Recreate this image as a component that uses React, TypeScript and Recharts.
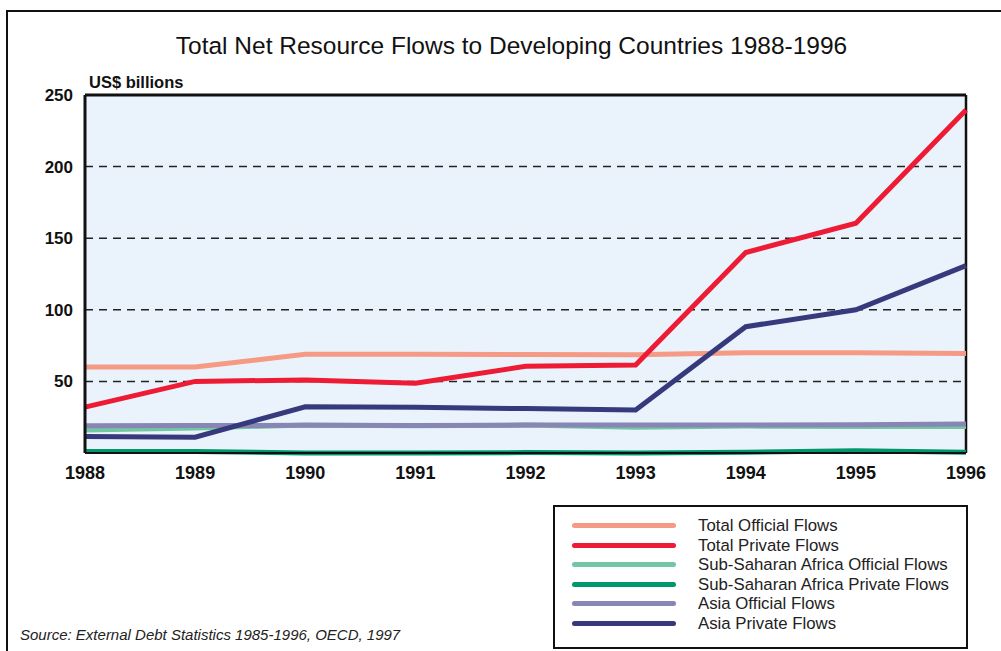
import React from 'react'
import {
  LineChart,
  Line,
  XAxis,
  YAxis,
  CartesianGrid,
  ReferenceLine,
  Legend,
} from 'recharts'

// ─── Data ─────────────────────────────────────────────────────────────────────

const years = [1988, 1989, 1990, 1991, 1992, 1993, 1994, 1995, 1996]

const totalOfficial = [60, 60, 69, 69, 68.8, 68.6, 70, 70, 69.5]
const totalPrivate = [32, 50, 51, 48.7, 60.5, 61.5, 140, 160.5, 239.5]
const ssaOfficial = [16, 17.5, 19.5, 19, 19.5, 18, 18.8, 18.5, 18.5]
const ssaPrivate = [1, 1, 0, 0, 0.3, 0, 0.6, 1.5, 0.5]
const asiaOfficial = [19, 19.2, 19.3, 19.2, 19.5, 19.5, 19.5, 19.7, 20.2]
const asiaPrivate = [11.5, 11, 32.3, 32, 31, 30, 88.2, 100, 130.8]

const yTicks = [50, 100, 150, 200, 250]

const series = [
  { key: 'totalOfficial', name: 'Total Official Flows', color: '#F59A84', values: totalOfficial },
  { key: 'totalPrivate', name: 'Total Private Flows', color: '#EE1B35', values: totalPrivate },
  { key: 'ssaOfficial', name: 'Sub-Saharan Africa Official Flows', color: '#72C6A2', values: ssaOfficial },
  { key: 'ssaPrivate', name: 'Sub-Saharan Africa Private Flows', color: '#00976A', values: ssaPrivate },
  { key: 'asiaOfficial', name: 'Asia Official Flows', color: '#8886B4', values: asiaOfficial },
  { key: 'asiaPrivate', name: 'Asia Private Flows', color: '#363A7C', values: asiaPrivate },
]

const chartData = years.map((year, i) => {
  const row: Record<string, number> = { year }
  series.forEach((s) => {
    row[s.key] = s.values[i]
  })
  return row
})

const FONT = '"Liberation Sans", Arial, sans-serif'

// ─── Legend ───────────────────────────────────────────────────────────────────

function LegendBox() {
  return (
    <div
      style={{
        width: 411,
        height: 131,
        border: '2.5px solid #111',
        background: '#fff',
        boxSizing: 'content-box',
        paddingTop: 9,
      }}
    >
      {series.map((s) => (
        <div key={s.key} style={{ display: 'flex', alignItems: 'center', height: 19.5 }}>
          <div
            style={{
              marginLeft: 17,
              width: 104,
              height: 5,
              borderRadius: 3,
              background: s.color,
            }}
          />
          <span
            style={{
              marginLeft: 22,
              fontFamily: FONT,
              fontSize: 16.8,
              color: '#222',
              lineHeight: '19px',
              whiteSpace: 'nowrap',
            }}
          >
            {s.name}
          </span>
        </div>
      ))}
    </div>
  )
}

// ─── Component ────────────────────────────────────────────────────────────────

export default function App() {
  return (
    <div
      style={{
        position: 'absolute',
        left: 0,
        top: 0,
        width: 1001,
        height: 651,
        background: '#fff',
        overflow: 'hidden',
        fontFamily: FONT,
      }}
    >
      {/* outer frame */}
      <div
        style={{
          position: 'absolute',
          left: 6,
          top: 10,
          width: 1100,
          height: 800,
          borderLeft: '2.5px solid #111',
          borderTop: '2.5px solid #111',
        }}
      />
      <div
        style={{
          position: 'absolute',
          left: 0,
          width: 1023,
          top: 32,
          textAlign: 'center',
          fontSize: 24.5,
          color: '#111',
          whiteSpace: 'nowrap',
        }}
      >
        Total Net Resource Flows to Developing Countries 1988-1996
      </div>
      <div
        style={{
          position: 'absolute',
          left: 89,
          top: 73,
          fontSize: 16.5,
          fontWeight: 700,
          color: '#111',
        }}
      >
        US$ billions
      </div>

      <div style={{ position: 'absolute', left: 0, top: 0 }}>
        <LineChart
          width={1001}
          height={651}
          data={chartData}
          margin={{ top: 95, right: 35, bottom: 168, left: 25 }}
        >
          <CartesianGrid
            fill="#EAF3FB"
            vertical={false}
            horizontalValues={[50, 100, 150, 200]}
            stroke="#222"
            strokeWidth={1.5}
            strokeDasharray="8 6"
          />
          <XAxis
            dataKey="year"
            type="number"
            domain={[1988, 1996]}
            ticks={years}
            height={30}
            tickLine={false}
            tickSize={11}
            axisLine={{ stroke: '#111', strokeWidth: 2 }}
            tick={{ fontSize: 18, fontWeight: 700, fill: '#111', fontFamily: FONT }}
          />
          <YAxis
            type="number"
            domain={[0, 250]}
            ticks={yTicks}
            width={60}
            tickLine={false}
            tickSize={10}
            axisLine={{ stroke: '#111', strokeWidth: 3 }}
            tick={{ fontSize: 17, fontWeight: 700, fill: '#111', fontFamily: FONT }}
          />
          <ReferenceLine y={250} stroke="#111" strokeWidth={3} ifOverflow="visible" />
          <ReferenceLine x={1996} stroke="#111" strokeWidth={2.5} ifOverflow="visible" />
          {series.map((s) => (
            <Line
              key={s.key}
              type="linear"
              dataKey={s.key}
              name={s.name}
              stroke={s.color}
              strokeWidth={5}
              dot={false}
              activeDot={false}
              isAnimationActive={false}
            />
          ))}
          <Legend
            layout="vertical"
            align="center"
            verticalAlign="middle"
            content={() => <LegendBox />}
            wrapperStyle={{ position: 'absolute', left: 553, top: 505, width: 416, height: 142 }}
          />
        </LineChart>
      </div>

      <div
        style={{
          position: 'absolute',
          left: 20,
          top: 626,
          fontSize: 15,
          fontStyle: 'italic',
          color: '#222',
        }}
      >
        Source: External Debt Statistics 1985-1996, OECD, 1997
      </div>
    </div>
  )
}
